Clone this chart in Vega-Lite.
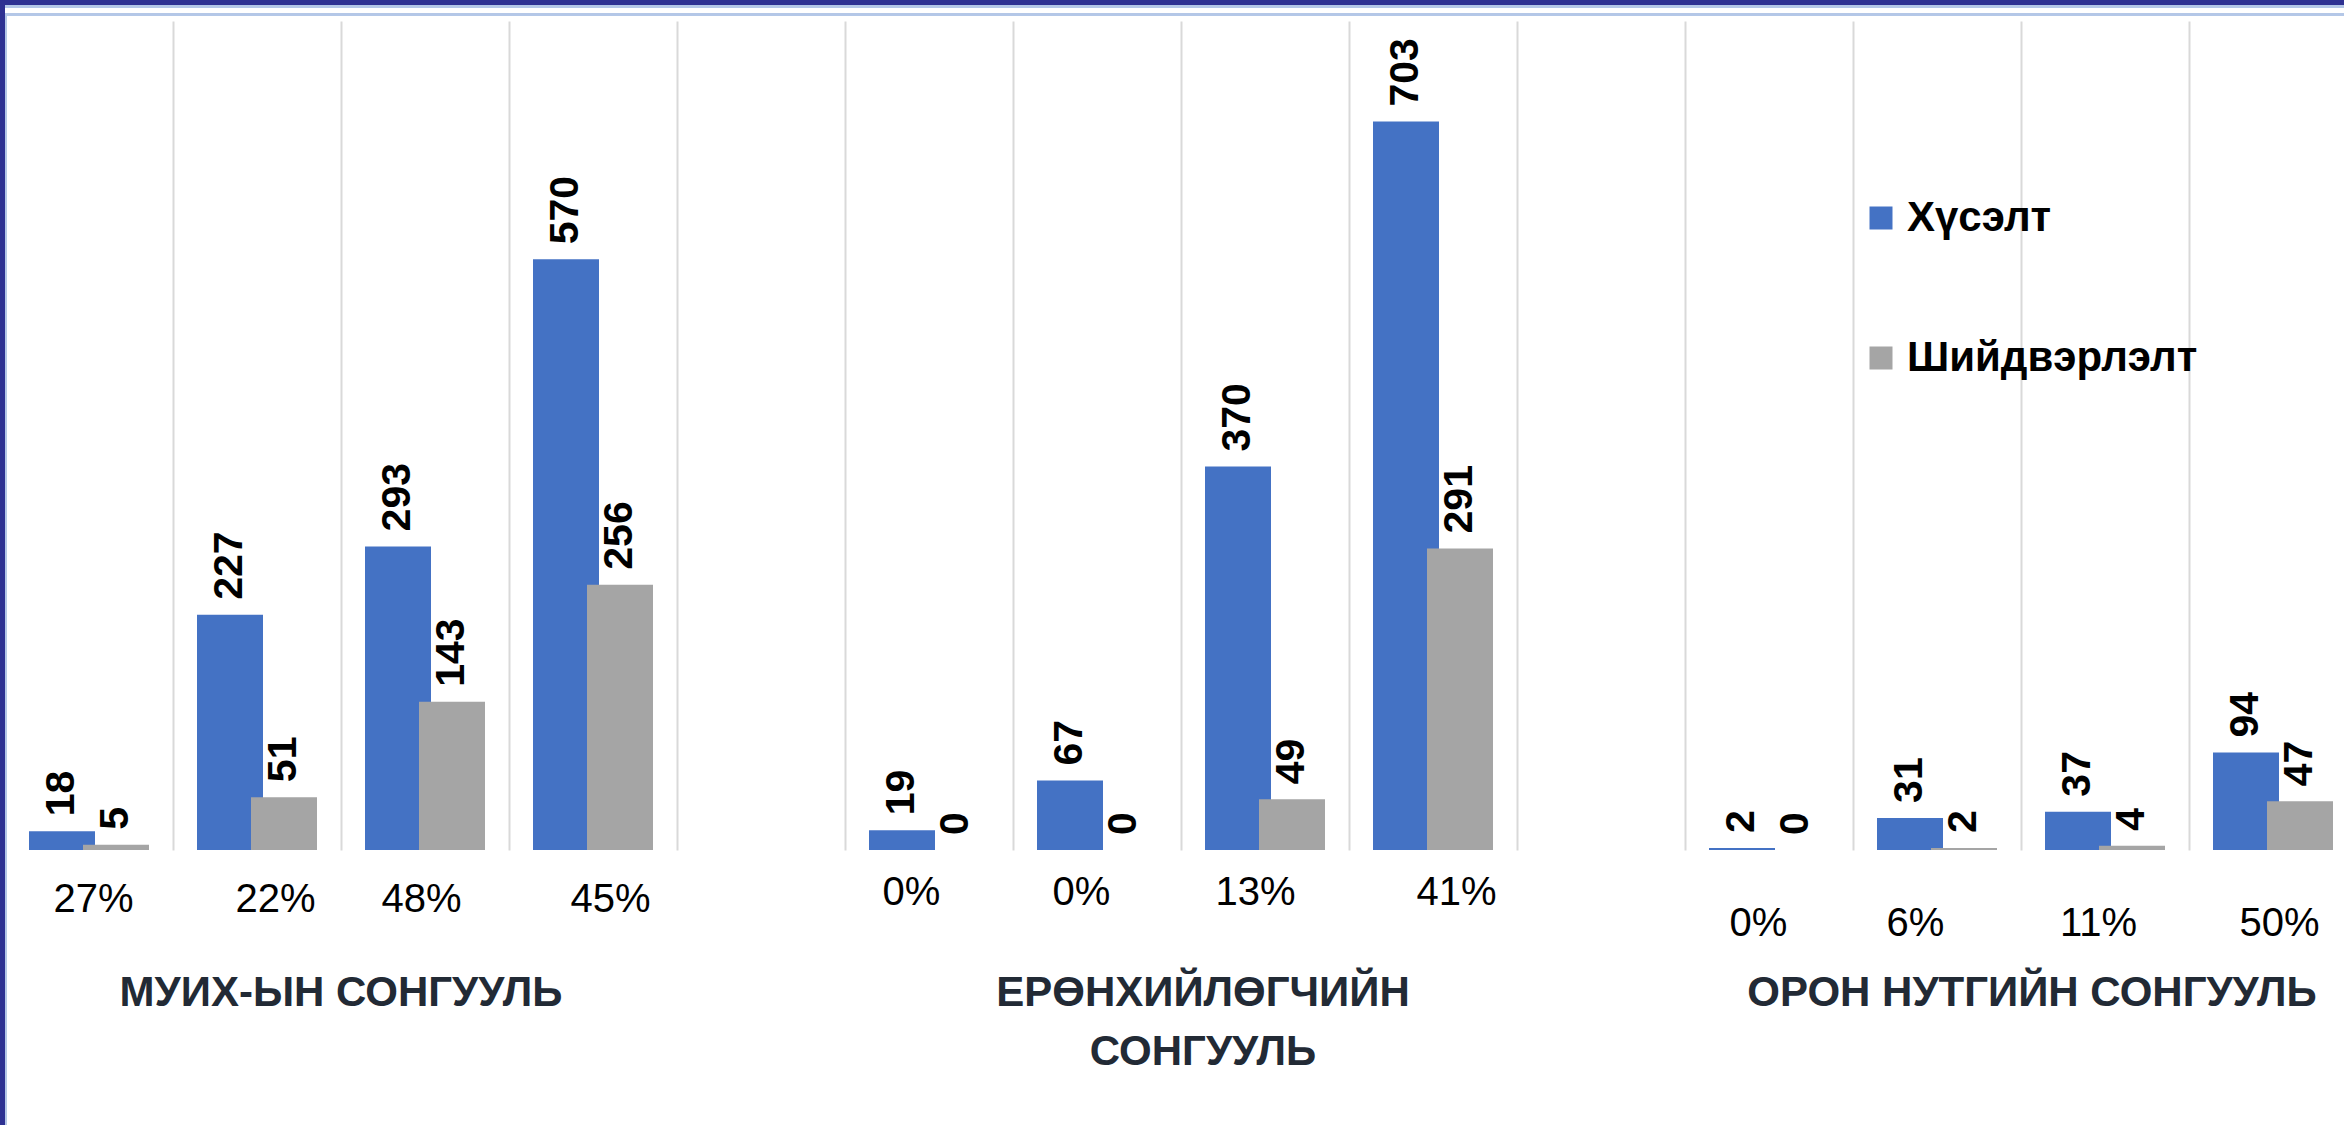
{
  "$schema": "https://vega.github.io/schema/vega-lite/v6.json",
  "width": 2344,
  "height": 829,
  "autosize": {"type": "none"},
  "padding": {"left": 0, "top": 21, "right": 0, "bottom": 275},
  "background": "white",
  "config": {"view": {"stroke": null}, "font": "Liberation Sans"},
  "data": {
    "values": [
      {"cat": "1|27%", "series": "Хүсэлт", "value": 18},
      {"cat": "1|27%", "series": "Шийдвэрлэлт", "value": 5},
      {"cat": "2|22%", "series": "Хүсэлт", "value": 227},
      {"cat": "2|22%", "series": "Шийдвэрлэлт", "value": 51},
      {"cat": "3|48%", "series": "Хүсэлт", "value": 293},
      {"cat": "3|48%", "series": "Шийдвэрлэлт", "value": 143},
      {"cat": "4|45%", "series": "Хүсэлт", "value": 570},
      {"cat": "4|45%", "series": "Шийдвэрлэлт", "value": 256},
      {"cat": "6|0%", "series": "Хүсэлт", "value": 19},
      {"cat": "6|0%", "series": "Шийдвэрлэлт", "value": 0},
      {"cat": "7|0%", "series": "Хүсэлт", "value": 67},
      {"cat": "7|0%", "series": "Шийдвэрлэлт", "value": 0},
      {"cat": "8|13%", "series": "Хүсэлт", "value": 370},
      {"cat": "8|13%", "series": "Шийдвэрлэлт", "value": 49},
      {"cat": "9|41%", "series": "Хүсэлт", "value": 703},
      {"cat": "9|41%", "series": "Шийдвэрлэлт", "value": 291},
      {"cat": "11|0%", "series": "Хүсэлт", "value": 2},
      {"cat": "11|0%", "series": "Шийдвэрлэлт", "value": 0},
      {"cat": "12|6%", "series": "Хүсэлт", "value": 31},
      {"cat": "12|6%", "series": "Шийдвэрлэлт", "value": 2},
      {"cat": "13|11%", "series": "Хүсэлт", "value": 37},
      {"cat": "13|11%", "series": "Шийдвэрлэлт", "value": 4},
      {"cat": "14|50%", "series": "Хүсэлт", "value": 94},
      {"cat": "14|50%", "series": "Шийдвэрлэлт", "value": 47}
    ]
  },
  "resolve": {"axis": {"x": "independent"}},
  "layer": [
    {
      "transform": [{"filter": "datum.series === 'Хүсэлт'"}],
      "mark": {"type": "bar", "width": 66, "xOffset": -27, "color": "#4472C4"},
      "encoding": {
        "x": {
          "field": "cat", "type": "nominal",
          "scale": {
            "domain": ["1|27%", "2|22%", "3|48%", "4|45%", "5|", "6|0%", "7|0%", "8|13%", "9|41%", "10|", "11|0%", "12|6%", "13|11%", "14|50%"],
            "range": [5, 2357], "paddingInner": 0, "paddingOuter": 0
          },
          "axis": {
            "orient": "bottom",
            "title": null, "domain": false, "ticks": false, "tickSize": 0,
            "grid": true, "gridColor": "#D9D9D9", "gridWidth": 2, "tickBand": "extent",
            "labelExpr": "split(datum.value, '|')[1]",
            "labelFont": "Liberation Sans", "labelFontSize": 40, "labelColor": "#000000",
            "labelAngle": 0, "labelBaseline": "middle", "labelOverlap": false, "labelLimit": 0, "labelFlush": false,
            "labelPadding": {
              "condition": [
                {"test": "toNumber(split(datum.value, '|')[0]) >= 11", "value": 73},
                {"test": "toNumber(split(datum.value, '|')[0]) >= 6", "value": 42}
              ],
              "value": 49
            },
            "labelOffset": {
              "condition": [
                {"test": "datum.value == '1|27%'", "value": 4},
                {"test": "datum.value == '2|22%'", "value": 18},
                {"test": "datum.value == '3|48%'", "value": -4},
                {"test": "datum.value == '4|45%'", "value": 17},
                {"test": "datum.value == '6|0%'", "value": -18},
                {"test": "datum.value == '7|0%'", "value": -16},
                {"test": "datum.value == '8|13%'", "value": -10},
                {"test": "datum.value == '9|41%'", "value": 23},
                {"test": "datum.value == '11|0%'", "value": -11},
                {"test": "datum.value == '12|6%'", "value": -22},
                {"test": "datum.value == '13|11%'", "value": -7},
                {"test": "datum.value == '14|50%'", "value": 6}
              ],
              "value": 0
            }
          }
        },
        "y": {"field": "value", "type": "quantitative", "scale": {"domain": [0, 800], "nice": false}, "axis": null},
        "color": {
          "field": "series", "type": "nominal",
          "scale": {"domain": ["Хүсэлт", "Шийдвэрлэлт"], "range": ["#4472C4", "#A5A5A5"]},
          "legend": {
            "orient": "none", "legendX": 1860, "legendY": 176, "title": null, "direction": "vertical",
            "symbolType": "square", "symbolSize": 529, "symbolStrokeWidth": 0,
            "labelFont": "Liberation Sans", "labelFontSize": 42, "labelFontWeight": "bold", "labelColor": "#000000",
            "labelOffset": 5, "rowPadding": 98, "padding": 0, "labelLimit": 0
          }
        }
      }
    },
    {
      "transform": [{"filter": "datum.series === 'Шийдвэрлэлт'"}],
      "mark": {"type": "bar", "width": 66, "xOffset": 27},
      "encoding": {
        "x": {
          "field": "cat", "type": "nominal",
          "axis": {
            "orient": "bottom",
            "title": null, "domain": false, "ticks": false, "tickSize": 0, "grid": false,
            "labelExpr": "datum.value == '3|48%' ? 'МУИХ-ЫН СОНГУУЛЬ' : datum.value == '8|13%' ? ['ЕРӨНХИЙЛӨГЧИЙН', 'СОНГУУЛЬ'] : datum.value == '13|11%' ? 'ОРОН НУТГИЙН СОНГУУЛЬ' : ''",
            "labelFont": "Liberation Sans", "labelFontSize": 42, "labelFontWeight": "bold", "labelColor": "#222A35",
            "labelAngle": 0, "labelBaseline": "top", "labelPadding": 122, "labelLineHeight": 59,
            "labelOverlap": false, "labelLimit": 0, "labelFlush": false,
            "labelOffset": {
              "condition": [
                {"test": "datum.value == '8|13%'", "value": -62},
                {"test": "datum.value == '13|11%'", "value": -73}
              ],
              "value": -84
            }
          }
        },
        "y": {"field": "value", "type": "quantitative"},
        "color": {"field": "series", "type": "nominal"}
      }
    },
    {
      "transform": [{"filter": "datum.series === 'Хүсэлт'"}],
      "mark": {"type": "text", "angle": 270, "align": "left", "baseline": "middle", "dx": 15, "xOffset": -27, "fontSize": 41, "fontWeight": "bold", "color": "#000000", "font": "Liberation Sans"},
      "encoding": {
        "x": {"field": "cat", "type": "nominal", "axis": null},
        "y": {"field": "value", "type": "quantitative"},
        "text": {"field": "value", "type": "quantitative"}
      }
    },
    {
      "transform": [{"filter": "datum.series === 'Шийдвэрлэлт'"}],
      "mark": {"type": "text", "angle": 270, "align": "left", "baseline": "middle", "dx": 15, "xOffset": 27, "fontSize": 41, "fontWeight": "bold", "color": "#000000", "font": "Liberation Sans"},
      "encoding": {
        "x": {"field": "cat", "type": "nominal", "axis": null},
        "y": {"field": "value", "type": "quantitative"},
        "text": {"field": "value", "type": "quantitative"}
      }
    },
    {
      "mark": {"type": "rule", "color": "#2E3192", "strokeWidth": 10},
      "encoding": {"y": {"datum": 820}}
    },
    {
      "mark": {"type": "rule", "color": "#B4C7E7", "strokeWidth": 2},
      "encoding": {"y": {"datum": 814}}
    },
    {
      "mark": {"type": "rule", "color": "#B4C7E7", "strokeWidth": 2},
      "encoding": {"y": {"datum": 806.5}}
    },
    {
      "mark": {"type": "rule", "color": "#2E3192", "strokeWidth": 5, "xOffset": -3},
      "encoding": {
        "x": {"datum": "1|27%", "bandPosition": 0, "axis": null},
        "y": {"datum": 820},
        "y2": {"datum": -266}
      }
    },
    {
      "mark": {"type": "rule", "color": "#B4C7E7", "strokeWidth": 2, "xOffset": 1},
      "encoding": {
        "x": {"datum": "1|27%", "bandPosition": 0, "axis": null},
        "y": {"datum": 806.5},
        "y2": {"datum": -266}
      }
    }
  ]
}
